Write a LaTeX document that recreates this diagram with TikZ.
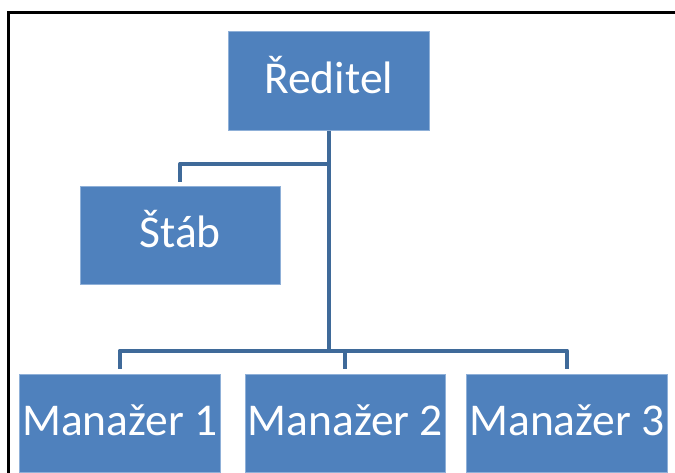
\documentclass[tikz,border=0pt]{standalone}
\usepackage{fontspec}
\setmainfont{Carlito}
\definecolor{boxblue}{HTML}{4F81BD}
\definecolor{boxedge}{HTML}{8FB0D8}
\definecolor{linkblue}{HTML}{3F6A99}
\begin{document}
\begin{tikzpicture}[x=1pt,y=-1pt,
  unit/.style={rectangle, fill=boxblue, draw=boxedge, line width=0.6pt,
    minimum width=200.5pt, minimum height=98.5pt, inner sep=0pt,
    text=white, font=\fontsize{45.5}{52}\selectfont,
    text height=33pt, text depth=8pt},
  link/.style={draw=linkblue, line width=4pt, line join=round}]
\useasboundingbox (0,0) rectangle (675,472);

% outer frame (open towards the right and bottom)
\draw[line width=2.4pt] (8.5,500) -- (8.5,12.5) -- (700,12.5);

% units
\node[unit] (dir)  at (328.75,81)   {Ředitel};
\node[unit] (stab) at (180.25,235.25) {Štáb};
\node[unit] (m1)   at (119.75,423.25) {Manažer 1};
\node[unit] (m2)   at (345.25,423.25) {Manažer 2};
\node[unit] (m3)   at (566.95,423.25) {Manažer 3};

% connector junctions
\coordinate (stabknee) at (328.75,163.5);
\coordinate (bar)      at (328.75,350.5);

% connectors
\draw[link] (dir.south) -- (bar);
\draw[link, shorten >=4pt] (stabknee) -| (stab.north);
\draw[link, shorten >=5pt] (bar) -| (m1.north);
\draw[link, shorten >=5pt] (bar) -| (m3.north);
\draw[link, shorten >=5pt] (bar) -| (m2.north);
\end{tikzpicture}
\end{document}
